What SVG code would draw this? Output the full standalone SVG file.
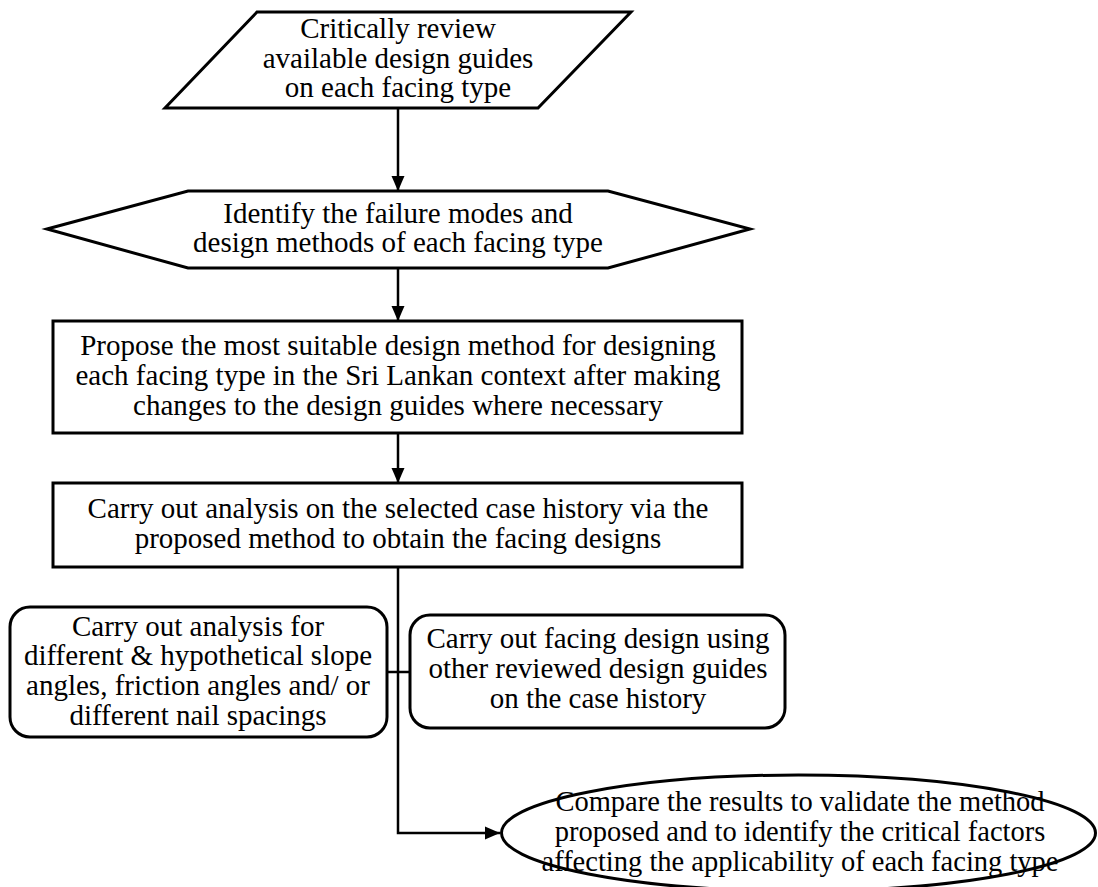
<svg xmlns="http://www.w3.org/2000/svg" width="1098" height="887" viewBox="0 0 1098 887">
<defs>
<style>
.s{fill:#fff;stroke:#000;stroke-width:3;stroke-linejoin:miter}
.c{fill:none;stroke:#000;stroke-width:2.5}
text{font-family:"Liberation Serif","Times New Roman",serif;font-size:29px;fill:#000;text-anchor:middle}
.sm{font-size:28.5px}
</style>
<marker id="ah" markerUnits="userSpaceOnUse" markerWidth="16" markerHeight="14" viewBox="0 0 16 14" refX="15" refY="7" orient="auto">
<path d="M0,0.5 L15,7 L0,13.5 z" fill="#000"/>
</marker>
</defs>
<rect width="1098" height="887" fill="#fff"/>
<g id="connectors">
<line class="c" x1="398" y1="108" x2="398" y2="191" marker-end="url(#ah)"/>
<line class="c" x1="398" y1="268" x2="398" y2="321" marker-end="url(#ah)"/>
<line class="c" x1="398" y1="433" x2="398" y2="483" marker-end="url(#ah)"/>
<polyline class="c" points="398,567 398,833 500,833" marker-end="url(#ah)"/>
<line class="c" x1="387" y1="672" x2="410" y2="672"/>
</g>
<g id="n1">
<polygon class="s" points="257,12 631,12 538,108 165,108"/>
<text x="398" y="38">Critically review</text>
<text x="398" y="68">available design guides</text>
<text x="398" y="97">on each facing type</text>
</g>
<g id="n2">
<polygon class="s" points="47,229 188,191 608,191 750,229 608,268 188,268"/>
<text x="398" y="223">Identify the failure modes and</text>
<text x="398" y="252">design methods of each facing type</text>
</g>
<g id="n3">
<rect class="s" x="53" y="321" width="689" height="112"/>
<text x="398" y="355">Propose the most suitable design method for designing</text>
<text x="398" y="385">each facing type in the Sri Lankan context after making</text>
<text x="398" y="415">changes to the design guides where necessary</text>
</g>
<g id="n4">
<rect class="s" x="53" y="483" width="689" height="84"/>
<text x="398" y="518">Carry out analysis on the selected case history via the</text>
<text x="398" y="548">proposed method to obtain the facing designs</text>
</g>
<g id="n5">
<rect class="s" x="10" y="607" width="377" height="130" rx="20" ry="20"/>
<text x="198" y="636">Carry out analysis for</text>
<text x="198" y="665">different &amp; hypothetical slope</text>
<text x="198" y="695">angles, friction angles and/ or</text>
<text x="198" y="725">different nail spacings</text>
</g>
<g id="n6">
<rect class="s" x="410" y="615" width="375" height="113" rx="20" ry="20"/>
<text x="598" y="648">Carry out facing design using</text>
<text x="598" y="678">other reviewed design guides</text>
<text x="598" y="708">on the case history</text>
</g>
<g id="n7">
<ellipse class="s" cx="798.5" cy="833" rx="297" ry="58"/>
<text class="sm" x="800" y="811">Compare the results to validate the method</text>
<text class="sm" x="800" y="841">proposed and to identify the critical factors</text>
<text class="sm" x="800" y="871">affecting the applicability of each facing type</text>
</g>
</svg>
